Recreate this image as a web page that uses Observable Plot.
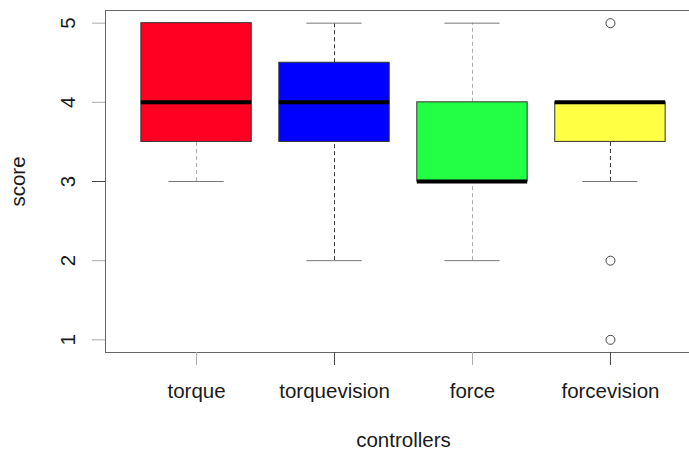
<!DOCTYPE html>
<html>
<head>
<meta charset="utf-8">
<script src="https://cdn.jsdelivr.net/npm/d3@7"></script>
<script src="https://cdn.jsdelivr.net/npm/@observablehq/plot@0.6"></script>
<style>
  html, body { margin: 0; padding: 0; background: #fff; overflow: hidden; width: 689px; height: 451px; }
  #chart svg { display: block; max-width: none !important; font-family: "Liberation Sans", Arial, sans-serif; }
</style>
</head>
<body>
<div id="chart"></div>
<script>
// ---- data (R boxplot summary statistics) ----
const controllers = ["torque", "torquevision", "force", "forcevision"];
const lowerWhisker = [3, 2, 2, 3];
const q1 = [3.5, 3.5, 3, 3.5];
const median = [4, 4, 3, 4];
const q3 = [5, 4.5, 4, 4];
const upperWhisker = [5, 5, 5, 4];
const outlierController = ["forcevision", "forcevision", "forcevision"];
const outlierScore = [5, 2, 1];
const yTicks = [1, 2, 3, 4, 5];

// ---- palette ----
const boxColors = ["#ff0022", "#0000ff", "#22ff44", "#ffff44"];

// build table
const boxes = controllers.map((c, i) => ({
  name: c, pos: i + 1,
  lo: lowerWhisker[i], q1: q1[i], med: median[i], q3: q3[i], hi: upperWhisker[i],
  fill: boxColors[i], light: i % 2 === 0
}));
const outliers = outlierController.map((c, i) => ({pos: controllers.indexOf(c) + 1, score: outlierScore[i]}));
const half = 0.4, capHalf = 0.2;
const fmt = d => controllers[d - 1];

const chart = Plot.plot({
  width: 701,
  height: 451,
  marginLeft: 105,
  marginRight: 0,
  marginTop: 10,
  marginBottom: 99,
  style: {fontSize: "20.5px", fontFamily: "'Liberation Sans', Arial, sans-serif", color: "#1a1a1a", background: "#fff", maxWidth: "none"},
  x: {domain: [0.34, 4.66]},
  y: {domain: [0.84, 5.16]},
  marks: [
    Plot.frame({stroke: "#666"}),
    // whiskers
    Plot.ruleX(boxes.filter(d => d.hi > d.q3), {x: "pos", y1: "q3", y2: "hi", stroke: d => d.light ? "#aaa" : "#333", strokeDasharray: "4,3"}),
    Plot.ruleX(boxes.filter(d => d.lo < d.q1), {x: "pos", y1: "lo", y2: "q1", stroke: d => d.light ? "#aaa" : "#333", strokeDasharray: "4,3"}),
    // caps
    Plot.ruleY(boxes, {y: "hi", x1: d => d.pos - capHalf, x2: d => d.pos + capHalf, stroke: "#777"}),
    Plot.ruleY(boxes, {y: "lo", x1: d => d.pos - capHalf, x2: d => d.pos + capHalf, stroke: "#777"}),
    // boxes
    Plot.rect(boxes, {x1: d => d.pos - half, x2: d => d.pos + half, y1: "q1", y2: "q3", fill: "fill", stroke: "#333", strokeWidth: 1}),
    // medians
    Plot.ruleY(boxes, {y: "med", x1: d => d.pos - half, x2: d => d.pos + half, stroke: "#000", strokeWidth: 4}),
    // outliers
    Plot.dot(outliers, {x: "pos", y: "score", r: 4.5, stroke: "#444", fill: "none", strokeWidth: 1}),
    // axes
    Plot.axisX([1, 3], {tickSize: 13, tickPadding: 18, tickFormat: fmt, stroke: "#aaa", fill: "#1a1a1a", label: null}),
    Plot.axisX([2, 4], {tickSize: 13, tickPadding: 18, tickFormat: fmt, stroke: "#444", fill: "#1a1a1a", label: null}),
    Plot.axisY(yTicks.filter(t => t !== 3), {tickSize: 13, tickPadding: 18, tickRotate: -90, tickFormat: "d", stroke: "#aaa", fill: "#1a1a1a", label: null}),
    Plot.axisY([3], {tickSize: 13, tickPadding: 18, tickRotate: -90, tickFormat: "d", stroke: "#444", fill: "#1a1a1a", label: null}),
    Plot.axisX({ticks: [], label: "controllers", labelAnchor: "center", labelOffset: 94.5, labelArrow: "none"}),
    Plot.axisY({ticks: [], label: "score", labelAnchor: "center", labelOffset: 95, labelArrow: "none"})
  ]
});
document.getElementById("chart").appendChild(chart);
</script>
</body>
</html>
